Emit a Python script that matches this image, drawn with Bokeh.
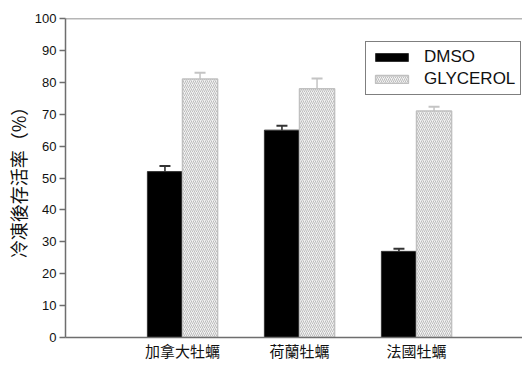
from bokeh.plotting import figure
from bokeh.models import (Range1d, FixedTicker, ColumnDataSource, Whisker, TeeHead,
                          Legend, LegendItem, Span)
from bokeh.embed import file_html
from bokeh.resources import INLINE

categories = ["加拿大牡蠣", "荷蘭牡蠣", "法國牡蠣"]
dmso = [52, 65, 27]
dmso_err = [1.8, 1.4, 0.8]
glycerol = [81, 78, 71]
glycerol_err = [2.0, 3.2, 1.3]
y_ticks = [0, 10, 20, 30, 40, 50, 60, 70, 80, 90, 100]

xpos = [i + 1 for i in range(len(categories))]
bw = 0.3

p = figure(width=522, height=363, output_backend="svg", toolbar_location=None,
           x_range=Range1d(0, 3.906), y_range=Range1d(0, 100),
           min_border_left=65, min_border_top=18, min_border_right=0,
           min_border_bottom=10)
p.outline_line_color = None
p.xgrid.visible = False
p.ygrid.visible = False
p.background_fill_color = "white"
p.border_fill_color = "white"

src_d = ColumnDataSource(dict(x=[x - bw / 2 for x in xpos], top=dmso,
                              up=[v + e for v, e in zip(dmso, dmso_err)]))
src_g = ColumnDataSource(dict(x=[x + bw / 2 for x in xpos], top=glycerol,
                              up=[v + e for v, e in zip(glycerol, glycerol_err)]))

wd = Whisker(source=src_d, base="x", lower="top", upper="up",
             line_color="#222222", line_width=1.5,
             upper_head=TeeHead(size=11, line_color="#333333", line_width=2),
             lower_head=None)
wg = Whisker(source=src_g, base="x", lower="top", upper="up",
             line_color="#c4c4c4", line_width=1.5,
             upper_head=TeeHead(size=11, line_color="#c4c4c4", line_width=2),
             lower_head=None)
p.add_layout(wd)
p.add_layout(wg)

rd = p.vbar(x="x", top="top", bottom=0, width=bw, source=src_d,
            fill_color="black", line_color="#333333", line_width=1)
rg = p.vbar(x="x", top="top", bottom=0, width=bw, source=src_g,
            fill_color="#f2f2f2", line_color="#c0c0c0", line_width=1.5,
            hatch_pattern="/", hatch_scale=4, hatch_weight=1,
            hatch_color="#bdbdbd")

p.add_layout(Span(location=100, dimension="width", line_color="#6e6e6e", line_width=1.5))

ax = p.xaxis[0]
ax.ticker = FixedTicker(ticks=xpos)
ax.major_label_overrides = {x: c for x, c in zip(xpos, categories)}
ax.major_tick_line_color = None
ax.major_tick_in = 0
ax.major_tick_out = 0
ax.minor_tick_line_color = None
ax.minor_tick_in = 0
ax.minor_tick_out = 0
ax.axis_line_color = "#6e6e6e"
ax.axis_line_width = 1.5
ax.major_label_text_font = "Noto Sans CJK TC"
ax.major_label_text_font_size = "15px"
ax.major_label_text_color = "#111111"
ax.major_label_standoff = 2

ay = p.yaxis[0]
ay.ticker = FixedTicker(ticks=y_ticks)
ay.minor_tick_line_color = None
ay.major_tick_in = 0
ay.major_tick_out = 6
ay.major_tick_line_color = "#6e6e6e"
ay.major_tick_line_width = 1.5
ay.axis_line_color = "#6e6e6e"
ay.axis_line_width = 1.5
ay.major_label_text_font = "Liberation Sans"
ay.major_label_text_font_size = "13px"
ay.major_label_text_color = "#111111"
ay.major_label_standoff = 3
ay.axis_label = "冷凍後存活率（%）"
ay.axis_label_text_font = "Noto Sans CJK TC"
ay.axis_label_text_font_size = "18px"
ay.axis_label_text_font_style = "normal"
ay.axis_label_text_color = "#111111"
ay.axis_label_standoff = 1

legend = Legend(items=[LegendItem(label="DMSO", renderers=[rd]),
                       LegendItem(label="GLYCEROL", renderers=[rg])],
                location=(300, 242))
legend.border_line_color = "black"
legend.border_line_width = 1
legend.background_fill_alpha = 1
legend.glyph_width = 41
legend.glyph_height = 10
legend.label_height = 20
legend.spacing = 2
legend.padding = 5
legend.margin = 0
legend.label_standoff = 12
legend.label_text_font = "Liberation Sans"
legend.label_text_font_size = "17px"
legend.label_text_color = "#111111"
p.add_layout(legend)

open("out.html", "w").write(file_html(p, INLINE))
